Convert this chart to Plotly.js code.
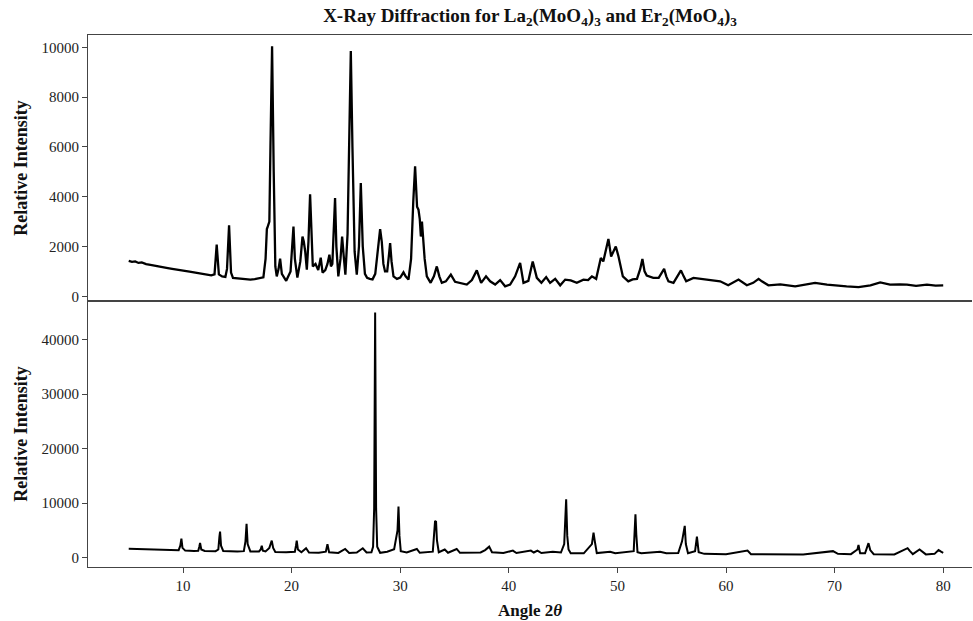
<!DOCTYPE html>
<html>
<head>
<meta charset="utf-8">
<script src="https://cdn.plot.ly/plotly-3.0.1.min.js"></script>
<style>html,body{margin:0;padding:0;background:#fff;overflow:hidden}#chart{width:973px;height:621px}</style>
</head>
<body>
<div id="chart"></div>
<script>
// La2(MoO4)3 pattern (angle 2θ, intensity)
const laAngle = [5.0,5.3,5.6,5.9,6.2,6.6,7.0,7.4,7.8,8.2,8.6,9.0,9.4,9.8,10.2,10.6,11.0,11.4,11.8,12.2,12.6,12.9,13.1,13.3,13.6,13.9,14.05,14.24,14.42,14.6,15.0,15.4,15.8,16.2,16.6,17.0,17.4,17.6,17.72,17.8,17.95,18.05,18.2,18.35,18.5,18.63,18.8,18.94,19.1,19.5,19.9,20.05,20.17,20.3,20.53,20.8,21.0,21.12,21.25,21.4,21.55,21.7,21.85,21.95,22.2,22.45,22.68,22.85,23.1,23.3,23.48,23.62,23.75,23.9,24.0,24.12,24.3,24.5,24.65,24.8,24.95,25.15,25.3,25.45,25.6,25.8,26.0,26.2,26.37,26.55,26.75,26.95,27.2,27.45,27.7,27.95,28.15,28.3,28.45,28.6,28.8,28.95,29.07,29.2,29.38,29.7,30.0,30.3,30.5,30.76,31.0,31.2,31.37,31.55,31.68,31.8,31.9,32.0,32.1,32.25,32.45,32.8,33.1,33.37,33.6,33.83,34.2,34.66,35.05,35.6,36.13,36.6,37.05,37.45,37.9,38.28,38.74,39.2,39.66,40.12,40.58,41.04,41.35,41.8,42.2,42.58,43.0,43.44,43.8,44.27,44.73,45.19,45.7,46.26,46.87,47.3,47.65,48.04,48.3,48.47,48.7,48.95,49.17,49.42,49.65,49.85,50.1,50.5,51.0,51.4,51.8,52.1,52.3,52.5,52.7,53.3,53.8,54.1,54.3,54.5,54.7,55.16,55.55,55.85,56.1,56.33,57.0,57.8,58.7,59.46,60.2,61.15,61.92,62.5,63.0,63.3,63.9,65.0,66.37,67.3,68.2,69.3,70.2,71.1,72.2,73.3,74.2,75.1,76.0,76.66,77.5,78.5,79.3,80.0];
const laIntensity = [1420,1380,1400,1340,1360,1290,1260,1220,1190,1160,1130,1100,1080,1040,1020,990,960,930,890,860,840,880,2080,880,800,780,1100,2850,950,740,720,700,690,670,690,720,760,1500,2700,2800,3000,6000,10050,5000,1200,800,1100,1510,900,620,1000,2000,2800,1500,750,1400,2400,2200,1800,1070,2200,4100,1800,1200,1300,1050,1550,950,1050,1300,1670,1200,1300,3000,3950,2000,800,1500,2400,1600,870,2500,7000,9860,6000,1800,870,2000,4550,2000,900,740,700,680,900,1900,2700,2200,1300,1000,1000,1600,2140,1400,800,700,750,960,800,670,1500,3800,5220,3600,3480,3100,2400,3000,2400,1500,800,540,800,1200,800,540,600,870,580,520,470,650,1040,540,800,600,470,650,400,470,800,1340,540,620,1400,740,540,770,540,700,440,670,640,540,670,650,800,700,1200,1540,1400,1900,2300,1600,1850,2000,1600,800,600,680,700,1100,1500,1000,830,740,740,950,1100,800,600,540,800,1040,800,600,740,700,650,600,440,670,440,540,700,600,440,480,400,480,540,470,420,400,370,440,560,470,480,470,420,470,430,440];

// Er2(MoO4)3 pattern (angle 2θ, intensity)
const erAngle = [5.0,6.0,7.0,8.0,9.0,9.6,9.75,9.85,9.95,10.2,11.0,11.4,11.5,11.57,11.68,12.0,13.0,13.25,13.35,13.41,13.5,13.7,15.0,15.6,15.75,15.85,15.95,16.2,17.0,17.15,17.25,17.35,17.6,17.95,18.08,18.17,18.3,18.5,19.5,20.3,20.4,20.47,20.58,20.9,21.33,21.6,22.5,23.15,23.3,23.45,24.3,24.93,25.3,26.0,26.55,26.9,27.35,27.5,27.6,27.69,27.78,27.88,28.15,28.8,29.44,29.75,29.84,29.93,30.05,30.6,31.53,31.8,33.0,33.12,33.21,33.3,33.38,33.55,34.1,34.4,35.2,35.5,36.5,37.4,37.82,38.19,38.45,39.5,40.37,40.7,42.03,42.3,42.64,43.0,44.05,44.8,45.1,45.2,45.28,45.38,45.5,45.7,46.9,47.65,47.8,47.92,48.1,49.33,49.8,51.5,51.6,51.66,51.74,51.85,52.2,53.93,54.5,55.6,55.95,56.08,56.2,56.3,56.5,57.15,57.32,57.48,58.0,60.0,61.98,62.3,65.0,67.1,69.85,70.3,71.5,72.1,72.2,72.35,72.8,73.12,73.28,73.6,75.5,76.6,76.72,76.9,77.2,77.82,78.0,78.4,79.2,79.57,79.8,80.0];
const erIntensity = [1650,1620,1560,1500,1430,1380,2200,3500,1800,1300,1240,1250,2000,2700,1500,1230,1200,1500,3800,4780,2200,1230,1150,1200,3000,6200,2500,1150,1150,1500,2200,1300,1150,1800,2600,3130,1800,1050,1000,1100,2200,3130,1500,1000,1730,950,900,1100,2460,1000,880,1600,880,950,1730,950,1000,2000,9000,45000,9000,2000,900,1100,1540,5000,9380,4000,1200,950,1600,900,1100,5500,6750,6600,3200,1000,1500,900,1600,900,880,950,1400,2020,1000,850,1300,850,1300,950,1300,850,1100,950,2500,9500,10730,4000,1500,800,800,2500,4600,3000,850,1100,800,1200,5000,7970,4200,1000,800,1100,800,850,3000,4780,5830,2500,800,1200,3860,1000,700,650,1300,650,600,600,1200,700,650,1500,2330,800,800,2660,1400,650,600,1600,1750,1300,650,1500,1200,600,700,1400,1100,900];

const chartTitle = 'X-Ray Diffraction for La<sub>2</sub>(MoO<sub>4</sub>)<sub>3</sub> and Er<sub>2</sub>(MoO<sub>4</sub>)<sub>3</sub>';
const xTicks = [10,20,30,40,50,60,70,80];
const laTicks = [0,2000,4000,6000,8000,10000];
const erTicks = [0,10000,20000,30000,40000];

const serif = 'Liberation Serif, Times New Roman, serif';
const tickFont = {family: serif, size: 15, color: '#222'};
const yTitleFont = {family: serif, size: 18, color: '#111'};
const xTitleFont = {family: serif, size: 17, color: '#111'};

const traces = [
  {x: laAngle, y: laIntensity, xaxis: 'x', yaxis: 'y', mode: 'lines',
   line: {color: '#000', width: 2.3}, showlegend: false, hoverinfo: 'x+y'},
  {x: erAngle, y: erIntensity, xaxis: 'x2', yaxis: 'y2', mode: 'lines',
   line: {color: '#000', width: 2}, showlegend: false, hoverinfo: 'x+y'}
];

const xRange = [1.25, 82.65];
const layout = {
  width: 973, height: 621,
  margin: {l: 88, r: 1, t: 35, b: 54},
  paper_bgcolor: '#fff', plot_bgcolor: '#fff',
  title: {text: '<b>' + chartTitle + '</b>', font: {family: serif, size: 19, color: '#111'},
          x: 0.5, xref: 'paper', xanchor: 'center', y: 0.976, yref: 'container', yanchor: 'middle'},
  xaxis: {domain: [0, 1], anchor: 'y', range: xRange, showgrid: false, zeroline: false,
          showline: true, mirror: true, linecolor: '#444', linewidth: 1,
          showticklabels: false, ticks: '', matches: 'x2'},
  yaxis: {domain: [0.5, 1], anchor: 'x', range: [-190, 10500], showgrid: false, zeroline: false,
          showline: true, mirror: false, linecolor: '#444', linewidth: 1,
          ticks: 'outside', ticklen: 5, tickcolor: '#444', tickvals: laTicks, ticktext: laTicks.map(String),
          tickfont: tickFont,
          title: {text: '<b>Relative Intensity</b>', font: yTitleFont, standoff: 9}},
  xaxis2: {domain: [0, 1], anchor: 'y2', range: xRange, showgrid: false, zeroline: false,
          showline: true, mirror: true, linecolor: '#444', linewidth: 1,
          ticks: 'outside', ticklen: 5, tickcolor: '#444', tickvals: xTicks, ticktext: xTicks.map(String),
          tickfont: tickFont,
          title: {text: '<b>Angle 2<i>θ</i></b>', font: xTitleFont, standoff: 11}},
  yaxis2: {domain: [0, 0.5], anchor: 'x2', range: [-1710, 47100], showgrid: false, zeroline: false,
          showline: true, mirror: false, linecolor: '#444', linewidth: 1,
          ticks: 'outside', ticklen: 5, tickcolor: '#444', tickvals: erTicks, ticktext: erTicks.map(String),
          tickfont: tickFont,
          title: {text: '<b>Relative Intensity</b>', font: yTitleFont, standoff: 9}}
};

Plotly.newPlot('chart', traces, layout, {displayModeBar: false});
</script>
</body>
</html>
